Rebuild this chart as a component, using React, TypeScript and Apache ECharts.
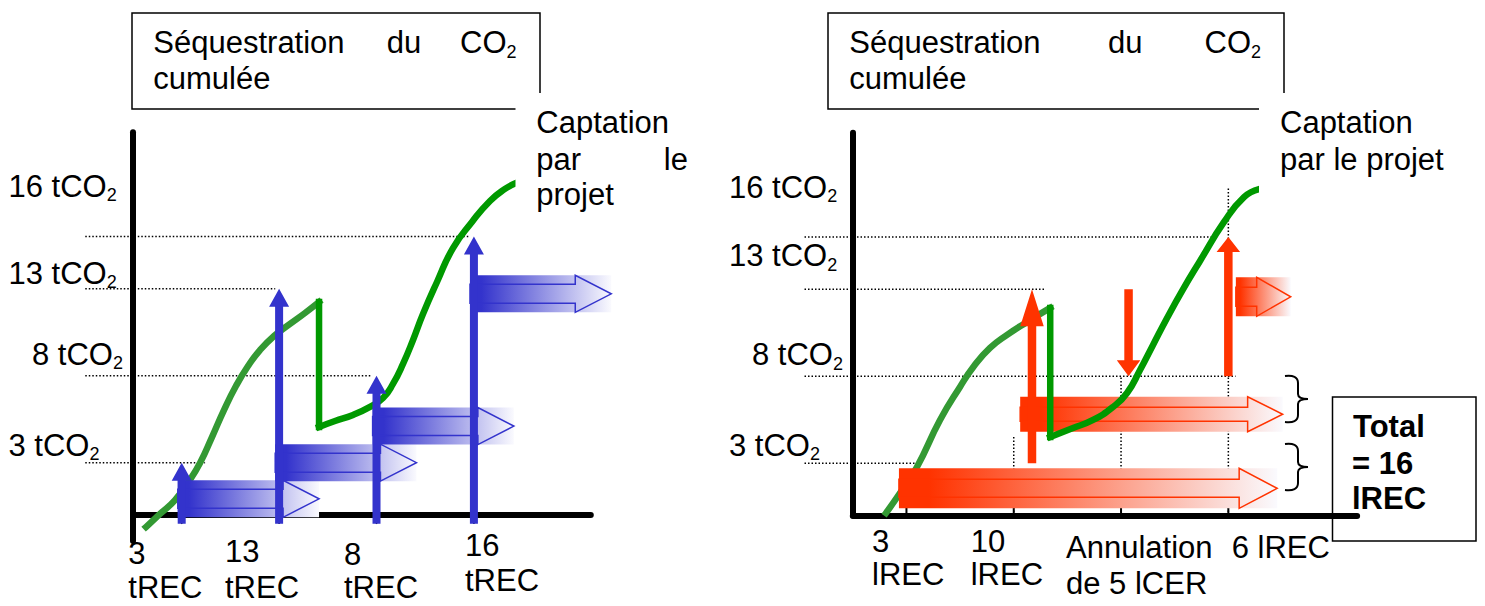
import React, { useEffect, useRef } from "react";
import * as echarts from "echarts";

const FONT = '"Liberation Sans", Arial, Helvetica, sans-serif';
const FS = 31;
const SUB = 18;

const BLUE = "#3333cc";
const RED = "#ff3300";
const GREEN_LIGHT = "#339933";
const GREEN_DARK = "#009900";

// Verification dates (in periods), shared by both schemes
const verificationTimes = [0.5, 1.5, 2.5, 3.5];

// Reference levels of cumulated sequestration (tCO₂)
const levelValues = [16, 13, 8, 3];
const levelLabels = ["16 tCO₂", "13 tCO₂", "8 tCO₂", "3 tCO₂"];

// ---- Left scheme: temporary credits ----
const tRecIssued = [3, 13, 8, 16];
const tRecTickLabels = [["3", "tREC"], ["13", "tREC"], ["8", "tREC"], ["16", "tREC"]];
const tRecValidity = 1.41; // a tREC lasts until the following verification

// cumulated sequestration (period, tCO₂): growth, loss event, regrowth
const leftGrowth = [
  [0.133, -0.69], [0.277, 0.06], [0.431, 0.86], [0.575, 1.95], [0.688, 2.99],
  [0.811, 4.48], [0.934, 6.03], [1.057, 7.41], [1.181, 8.56], [1.304, 9.48],
  [1.448, 10.29], [1.612, 10.98], [1.766, 11.61], [1.91, 12.24],
];
const leftLoss = [[1.91, 12.24], [1.91, 5.06]];
const leftRegrowth = [
  [1.91, 5.06], [2.074, 5.4], [2.259, 5.75], [2.433, 6.21], [2.567, 6.72],
  [2.669, 7.53], [2.772, 8.68], [2.875, 10.06], [2.977, 11.55], [3.121, 13.39],
  [3.285, 15.34], [3.48, 16.84], [3.665, 18.05], [3.819, 18.74], [3.932, 19.08],
];

// ---- Right scheme: long-term credits ----
const lRecStart = [0.43, 1.56, 3.57];
const lRecEnd = [3.955, 4.006, 4.081];
const lRecEventTimes = [1.67, 2.57, 3.5];
const lRecEventFrom = [3, 13, 8];
const lRecEventTo = [13, 8, 16];
const lRecTickLabels = [["3", "lREC"], ["10", "lREC"], ["Annulation", "de 5 lCER"], ["6 lREC"]];
const totalLabel = ["Total", "= 16", "lREC"];

const rightGrowth = [
  [0.309, 0.14], [0.44, 1.29], [0.598, 2.79], [0.813, 5.49], [0.999, 7.39],
  [1.13, 8.59], [1.279, 9.63], [1.438, 10.38], [1.624, 11.12], [1.84, 11.93],
];
const rightLoss = [[1.84, 11.93], [1.84, 4.51]];
const rightRegrowth = [
  [1.84, 4.51], [2.052, 5.03], [2.239, 5.49], [2.425, 6.24], [2.556, 7.04],
  [2.677, 8.36], [2.798, 9.8], [2.929, 11.35], [3.068, 12.9], [3.236, 14.63],
  [3.46, 16.87], [3.646, 18.3], [3.786, 18.76],
];

// ---- layout (axis units for lanes / guide extents, px for shapes) ----
const tRecLanes = [0.93, 3.01, 5.11, 12.71];
const tRecBandSize = [37, 19, 36]; // band height, shaft height, head length
const lRecLanes = [1.56, 5.82, 12.57];
const lRecBandSize = [[40, 18, 38], [35, 14, 35], [39, 19, 34]];
const lRecHeadLen = [37, 16, 15];
const leftLevelEnds = [3.46, 1.46, 2.45, 0.74];
const rightLevelEnds = [3.378, 1.782, 3.567, 0.6];
const rightGuideTops = [4.57, 8, 18.8];

const BRACE =
  "M0,1 C8,0 13,2 13,8 L13,19 C13,22 16,24 23,24 C16,24 13,26 13,29 L13,40 C13,46 8,48 0,47";
echarts.graphic.registerShape("brace", echarts.graphic.extendPath(BRACE, {}) as any);

function label(content: string, x: number, baseline: number, opt: { bold?: boolean; align?: string } = {}) {
  return {
    type: "text",
    z: 100,
    x,
    y: baseline - 0.3465 * FS,
    style: {
      text: content,
      fill: "#000",
      font: `${opt.bold ? "bold " : ""}${FS}px ${FONT}`,
      align: opt.align ?? "left",
      verticalAlign: "middle",
      textAlign: opt.align ?? "left",
      textVerticalAlign: "middle",
    },
  };
}

// text with a subscript "2" (CO₂)
function co2Label(content: string, x: number, baseline: number) {
  const [head, tail] = content.split("₂");
  return {
    type: "text",
    z: 100,
    x,
    y: baseline - 0.3465 * FS,
    style: {
      text: `{a|${head}}{b|2}${tail ? `{a|${tail}}` : ""}`,
      align: "left",
      verticalAlign: "middle",
      textAlign: "left",
      textVerticalAlign: "middle",
      rich: {
        a: { fontSize: FS, fontFamily: FONT, fill: "#000", color: "#000", lineHeight: 36 },
        b: { fontSize: SUB, fontFamily: FONT, fill: "#000", color: "#000", lineHeight: 22, verticalAlign: "bottom" },
      },
    },
  };
}

function segmentRenderer(width: number, dash: number[] | null) {
  return (_p: any, api: any) => {
    const a = api.coord([api.value(0), api.value(1)]);
    const b = api.coord([api.value(2), api.value(3)]);
    return {
      type: "line",
      shape: { x1: a[0], y1: a[1], x2: b[0], y2: b[1] },
      style: { stroke: "#000", lineWidth: width, lineDash: dash ?? undefined },
    };
  };
}

function bandRenderer(color: string, sizeOf: (i: number) => number[]) {
  return (params: any, api: any) => {
    const [h, s, l] = sizeOf(params.dataIndex);
    const a = api.coord([api.value(0), api.value(2)]);
    const b = api.coord([api.value(1), api.value(2)]);
    const x0 = a[0];
    const x1 = b[0];
    const cy = a[1];
    return {
      type: "group",
      children: [
        {
          type: "rect",
          shape: { x: x0, y: cy - h / 2, width: x1 - x0, height: h },
          style: {
            fill: new echarts.graphic.LinearGradient(0, 0, 1, 0, [
              { offset: 0, color },
              { offset: 0.08, color },
              { offset: 1, color: "#fafafe" },
            ]),
          },
        },
        {
          type: "polygon",
          shape: {
            points: [
              [x0, cy - s / 2], [x1 - l, cy - s / 2], [x1 - l, cy - h / 2], [x1, cy],
              [x1 - l, cy + h / 2], [x1 - l, cy + s / 2], [x0, cy + s / 2],
            ],
          },
          style: { fill: "none", stroke: color, lineWidth: 1.5 },
        },
      ],
    };
  };
}

function arrowRenderer(color: string, shaft: number, headW: number, headLen: (i: number) => number) {
  return (params: any, api: any) => {
    const x = api.value(0);
    const p0 = api.coord([x, api.value(1)]);
    const p1 = api.coord([x, api.value(2)]);
    const hl = headLen(params.dataIndex);
    const dir = p1[1] < p0[1] ? 1 : -1;
    const yb = p1[1] + dir * hl;
    const cx = p0[0];
    return {
      type: "polygon",
      shape: {
        points: [
          [cx - shaft / 2, p0[1]], [cx - shaft / 2, yb], [cx - headW / 2, yb], [cx, p1[1]],
          [cx + headW / 2, yb], [cx + shaft / 2, yb], [cx + shaft / 2, p0[1]],
        ],
      },
      style: { fill: color },
    };
  };
}

function curve(data: number[][], grid: number, color: string, z: number, smooth: number | boolean) {
  return {
    type: "line",
    xAxisIndex: grid,
    yAxisIndex: grid,
    data,
    showSymbol: false,
    symbol: "none",
    smooth,
    silent: true,
    z,
    lineStyle: { color, width: 6.5, cap: "square", join: "miter" },
  };
}

function custom(grid: number, data: number[][], renderItem: any, z: number, encode: any) {
  return { type: "custom", xAxisIndex: grid, yAxisIndex: grid, data, renderItem, z, silent: true, encode };
}

const axisCommon = {
  type: "value",
  axisLine: { show: true, onZero: true, lineStyle: { color: "#000", width: 6 } },
  axisTick: { show: false },
  axisLabel: { show: false },
  splitLine: { show: false },
};

function buildOption() {
  const segEncode = { x: [0, 2], y: [1, 3] };
  const arrowEncode = { x: 0, y: [1, 2] };
  const bandEncode = { x: [0, 1], y: 2 };

  const leftLabelPos = [[8.5, 197], [8.5, 284], [32, 365], [8.5, 456]];
  const rightLabelPos = [[729, 198], [729, 266.7], [752, 365.3], [729, 456]];
  const tRecLabelPos = [[128.3, 564, 598], [225, 562.5, 598], [344, 565, 598.5], [465, 556.7, 591.7]];
  const lRecLabelPos = [[872, 552.7, 585.7], [970.7, 552.7, 585.7], [1066, 558.3, 594], [1231.7, 558.6, 0]];

  const graphics: any[] = [
    // title boxes
    { type: "rect", z: 90, shape: { x: 132, y: 13, width: 408, height: 96 }, style: { fill: "#fff", stroke: "#000", lineWidth: 1.5 } },
    { type: "rect", z: 90, shape: { x: 828, y: 13, width: 456, height: 96 }, style: { fill: "#fff", stroke: "#000", lineWidth: 1.5 } },
    // "Captation par le projet" text areas
    { type: "rect", z: 95, shape: { x: 515.5, y: 93, width: 185, height: 125 }, style: { fill: "#fff" } },
    { type: "rect", z: 95, shape: { x: 1259, y: 93, width: 226, height: 110 }, style: { fill: "#fff" } },
    label("Séquestration", 153.3, 53.3),
    label("du", 386.8, 53.3),
    co2Label("CO₂", 460, 53.3),
    label("cumulée", 153.3, 89),
    label("Séquestration", 849.3, 53.3),
    label("du", 1108, 53.3),
    co2Label("CO₂", 1204.6, 53.3),
    label("cumulée", 849.3, 89),
    label("Captation", 536.3, 133.4),
    label("par", 536.3, 170),
    label("le", 688, 170, { align: "right" }),
    label("projet", 536.3, 205),
    label("Captation", 1280, 133.4),
    label("par le projet", 1280, 170),
    // braces and total
    { type: "brace", z: 100, x: 1285, y: 375, style: { stroke: "#000", fill: "none", lineWidth: 2 } },
    { type: "brace", z: 100, x: 1285, y: 443, style: { stroke: "#000", fill: "none", lineWidth: 2 } },
    { type: "rect", z: 100, shape: { x: 1332.5, y: 397, width: 143.5, height: 144 }, style: { fill: "none", stroke: "#000", lineWidth: 1.5 } },
    label(totalLabel[0], 1353, 437.6, { bold: true }),
    label(totalLabel[1], 1352, 474.7, { bold: true }),
    label(totalLabel[2], 1352, 509.5, { bold: true }),
  ];
  levelLabels.forEach((t, i) => {
    graphics.push(co2Label(t, leftLabelPos[i][0], leftLabelPos[i][1]));
    graphics.push(co2Label(t, rightLabelPos[i][0], rightLabelPos[i][1]));
  });
  tRecTickLabels.forEach((lines, i) => {
    const [x, b1, b2] = tRecLabelPos[i];
    graphics.push(label(lines[0], x, b1));
    if (lines[1]) graphics.push(label(lines[1], x, b2));
  });
  lRecTickLabels.forEach((lines, i) => {
    const [x, b1, b2] = lRecLabelPos[i];
    graphics.push(label(lines[0], x, b1));
    if (lines[1]) graphics.push(label(lines[1], x, b2));
  });

  const series: any[] = [
    // ---- left ----
    custom(0, levelValues.map((v, i) => [-0.49, v, leftLevelEnds[i], v]), segmentRenderer(1.5, [1.5, 2]), 1, segEncode),
    custom(0, verificationTimes.map((t) => [t, 0, t, -0.52]), segmentRenderer(1.5, null), 1, segEncode),
    curve(leftGrowth, 0, GREEN_LIGHT, 2, 0.5),
    curve(leftLoss, 0, GREEN_DARK, 2, false),
    curve(leftRegrowth, 0, GREEN_DARK, 2, 0.5),
    custom(
      0,
      verificationTimes.map((t, i) => [t - 0.04, t + tRecValidity, tRecLanes[i]]),
      bandRenderer(BLUE, () => tRecBandSize),
      3,
      bandEncode
    ),
    custom(
      0,
      verificationTimes.map((t, i) => [t, -0.5, tRecIssued[i]]),
      arrowRenderer(BLUE, 8, 20, () => 18),
      4,
      arrowEncode
    ),
    // ---- right ----
    custom(1, levelValues.map((v, i) => [-0.45, v, rightLevelEnds[i], v]), segmentRenderer(1.5, [1.5, 2]), 1, segEncode),
    custom(1, verificationTimes.slice(1).map((t, i) => [t, 0, t, rightGuideTops[i]]), segmentRenderer(1.5, [1.5, 2]), 1, segEncode),
    custom(1, verificationTimes.map((t) => [t, 0, t, 0.74]), segmentRenderer(2, null), 1, segEncode),
    curve(rightGrowth, 1, GREEN_LIGHT, 2, 0.5),
    custom(
      1,
      lRecStart.map((s, i) => [s, lRecEnd[i], lRecLanes[i]]),
      bandRenderer(RED, (i) => lRecBandSize[i]),
      3,
      bandEncode
    ),
    curve(rightLoss, 1, GREEN_DARK, 4, false),
    curve(rightRegrowth, 1, GREEN_DARK, 4, 0.5),
    custom(
      1,
      lRecEventTimes.map((t, i) => [t, lRecEventFrom[i], lRecEventTo[i]]),
      arrowRenderer(RED, 8.5, 23.5, (i) => lRecHeadLen[i]),
      5,
      arrowEncode
    ),
  ];

  return {
    animation: false,
    backgroundColor: "#ffffff",
    grid: [
      { left: 133, top: 132.2, width: 457.8, height: 408.9, containLabel: false },
      { left: 852.8, top: 132.7, width: 504.3, height: 382.8, containLabel: false },
    ],
    xAxis: [
      { ...axisCommon, gridIndex: 0, min: 0, max: 4.7 },
      { ...axisCommon, gridIndex: 1, min: 0, max: 4.7 },
    ],
    yAxis: [
      { ...axisCommon, gridIndex: 0, min: -1.5, max: 22 },
      { ...axisCommon, gridIndex: 1, min: 0, max: 22 },
    ],
    graphic: { elements: graphics },
    series,
  };
}

export default function App() {
  const ref = useRef<HTMLDivElement>(null);
  useEffect(() => {
    document.body.style.margin = "0";
    if (!ref.current) return;
    const chart = echarts.init(ref.current, undefined, { renderer: "svg" });
    chart.setOption(buildOption() as any);
    return () => chart.dispose();
  }, []);
  return <div ref={ref} style={{ width: 1485, height: 606, background: "#fff" }} />;
}
